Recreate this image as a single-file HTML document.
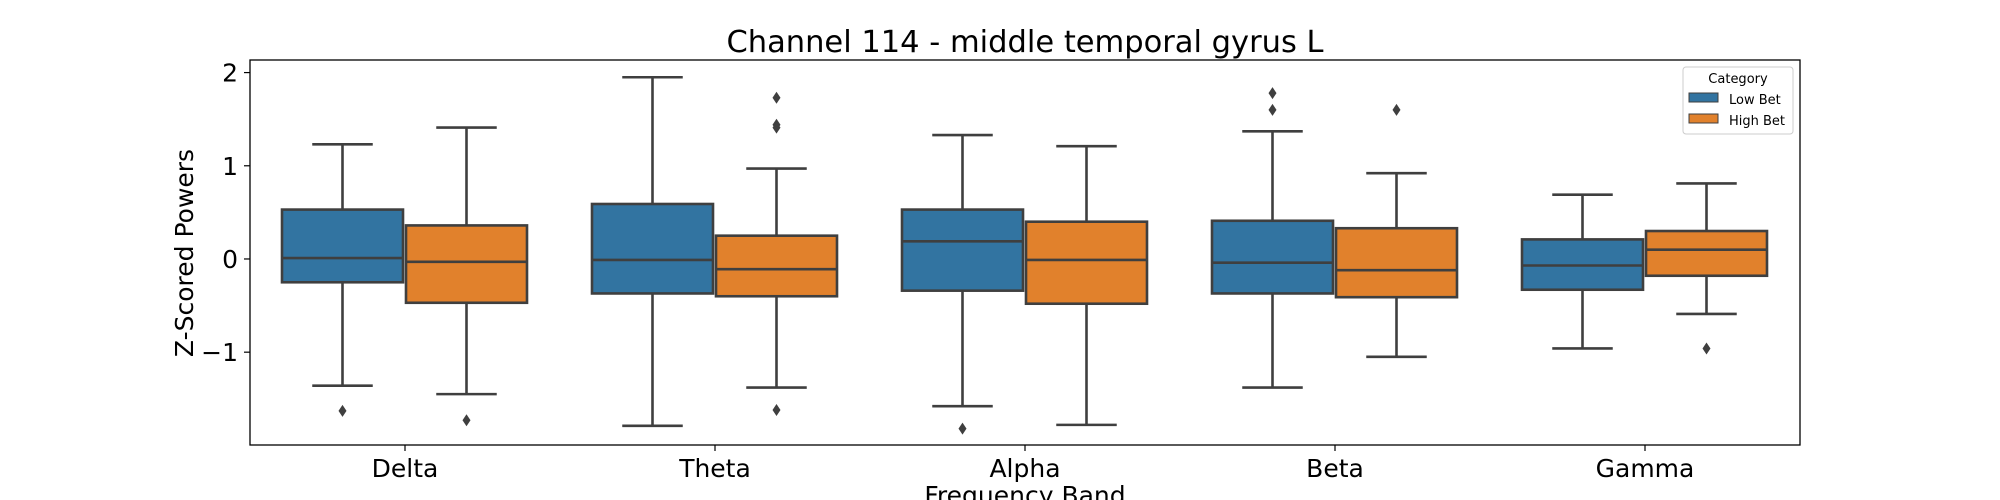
<!DOCTYPE html>
<html><head><meta charset="utf-8"><style>
body{margin:0;background:#fff;}
svg{display:block;font-family:"DejaVu Sans","Liberation Sans",sans-serif;}
</style></head><body>
<svg id="chart" width="2000" height="500" xmlns="http://www.w3.org/2000/svg">
<text x="1025" y="52" font-size="30.5" text-anchor="middle">Channel 114 - middle temporal gyrus L</text>
<text transform="translate(193,253) rotate(-90)" font-size="25" text-anchor="middle">Z-Scored Powers</text>
<text x="1025" y="504" font-size="25" text-anchor="middle">Frequency Band</text>
<g id="marks"></g>
<rect x="250" y="60" width="1550" height="385" fill="none" stroke="#000" stroke-width="1.3"/>
<g>
<rect x="1683" y="67" width="110" height="67" rx="3" fill="#fff" stroke="#ccc"/>
<text x="1738" y="83" font-size="13" text-anchor="middle">Category</text>
<rect x="1689" y="93" width="29" height="9" fill="#3274a1" stroke="#3f3f3f"/>
<text x="1729" y="104" font-size="13">Low Bet</text>
<rect x="1689" y="114" width="29" height="9" fill="#e1812c" stroke="#3f3f3f"/>
<text x="1729" y="125" font-size="13">High Bet</text>
</g>
</svg>
<script>
const categories = ["Delta","Theta","Alpha","Beta","Gamma"];
const seriesNames = ["Low Bet","High Bet"];
const yTicks = [-1,0,1,2];
// [whiskerLow, q1, median, q3, whiskerHigh]
const lowBet = [
 [-1.36,-0.25,0.01,0.53,1.23],
 [-1.79,-0.37,-0.01,0.59,1.95],
 [-1.58,-0.34,0.19,0.53,1.33],
 [-1.38,-0.37,-0.04,0.41,1.37],
 [-0.96,-0.33,-0.07,0.21,0.69]
];
const highBet = [
 [-1.45,-0.47,-0.03,0.36,1.41],
 [-1.38,-0.40,-0.11,0.25,0.97],
 [-1.78,-0.48,-0.01,0.40,1.21],
 [-1.05,-0.41,-0.12,0.33,0.92],
 [-0.59,-0.18,0.10,0.30,0.81]
];
const lowOutliers = [[-1.63],[],[-1.82],[1.78,1.60],[]];
const highOutliers = [[-1.73],[1.73,1.44,1.41,-1.62],[],[1.60],[-0.96]];

const NS="http://www.w3.org/2000/svg";
const L=250,R=1800,T=60,B=445,yMin=-1.996,yMax=2.135;
const colors=["#3274a1","#e1812c"];
const xBand=i=>L+(R-L)/categories.length*(i+0.5);
const y=v=>B-(v-yMin)/(yMax-yMin)*(B-T);
const g=document.getElementById('marks');
const svg=document.getElementById('chart');
function mk(tag,attrs,parent){const e=document.createElementNS(NS,tag);for(const k in attrs)e.setAttribute(k,attrs[k]);(parent||g).appendChild(e);return e;}
const step=(R-L)/categories.length, bw=step*0.4;
yTicks.forEach(t=>{
 const ln=mk('line',{x1:L-6,x2:L,y1:y(t),y2:y(t),stroke:'#000','stroke-width':1.2},svg);
 
 
 const tx=mk('text',{x:L-12,y:y(t)+9,'font-size':25,'text-anchor':'end'},svg);
 tx.textContent=t<0?'\u2212'+Math.abs(t):String(t);
 
 
});
categories.forEach((c,i)=>{
 const cx=xBand(i);
 const ln=mk('line',{x1:cx,x2:cx,y1:B,y2:B+6,stroke:'#000','stroke-width':1.2},svg);
 
 
 const tx=mk('text',{x:cx,y:B+32,'font-size':25,'text-anchor':'middle'},svg);
 tx.textContent=c;
 
 
 [lowBet,highBet].forEach((ser,s)=>{
  const [wl,q1,md,q3,wh]=ser[i];
  const x0=cx-bw+s*bw+1, w=bw-3, mx=x0+w/2;
  const grp=mk('g',{});
  
  
  const st={stroke:'#3f3f3f','stroke-width':2.6};
  mk('line',Object.assign({x1:mx,x2:mx,y1:y(wh),y2:y(q3)},st),grp);
  mk('line',Object.assign({x1:mx,x2:mx,y1:y(q1),y2:y(wl)},st),grp);
  mk('line',Object.assign({x1:mx-w/4,x2:mx+w/4,y1:y(wh),y2:y(wh)},st),grp);
  mk('line',Object.assign({x1:mx-w/4,x2:mx+w/4,y1:y(wl),y2:y(wl)},st),grp);
  mk('rect',Object.assign({x:x0,y:y(q3),width:w,height:y(q1)-y(q3),fill:colors[s]},st),grp);
  mk('line',Object.assign({x1:x0,x2:x0+w,y1:y(md),y2:y(md)},st),grp);
  (s?highOutliers:lowOutliers)[i].forEach(v=>{
   const p=mk('path',{d:`M${mx},${y(v)-6} L${mx+4},${y(v)} L${mx},${y(v)+6} L${mx-4},${y(v)} Z`,fill:'#3f3f3f'},grp);
   
   
  });
 });
});
</script>
</body></html>
